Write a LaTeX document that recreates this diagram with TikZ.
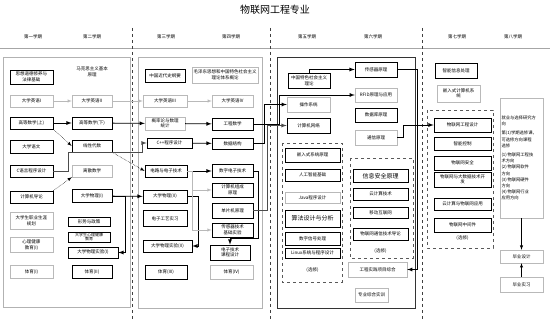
\documentclass[tikz,border=0pt]{standalone}
\usepackage{fontspec}
\newfontfamily\cjk{Noto Sans CJK SC}
\begin{document}
\begin{tikzpicture}[
    x=1pt, y=-1pt,
    every node/.style={font=\cjk\fontsize{4.5}{5.5}\selectfont, inner sep=1pt, align=center},
    box/.style 2 args={minimum width=#1, minimum height=#2},
    hard/.style={draw=black, line width=0.7pt},
    soft/.style={draw=gray!55, line width=0.4pt},
    big/.style={font=\cjk\fontsize{6}{7}\selectfont},
    group/.style={draw=gray!70!black, dashed, line width=0.6pt},
    panel/.style={draw=gray!60, line width=0.5pt},
    blk/.style={draw, line width=0.8pt, -latex},
    gry/.style={draw=gray!55, line width=0.5pt, -latex},
    dot/.style={draw, densely dotted, line width=0.5pt, -latex},
  ]
  \fill[white] (0,0) rectangle (550,320);
  \useasboundingbox (0,0) rectangle (550,320);

  % title and semesters
  \node[font=\cjk\fontsize{10}{12}\selectfont] (title) at (275,10) {物联网工程专业};
  \foreach \x/\t [count=\i] in {33/第一学期, 92/第二学期, 166/第三学期, 231/第四学期,
                                307/第五学期, 373/第六学期, 457/第七学期, 513/第八学期}
    \node (h\i) at (\x,37) {\t};
  \draw[gray!70] (0,48) -- (550,48);
  \foreach \x in {132,270,422}
    \draw[dashed, gray!50!black, line width=0.5pt] (\x,28) -- (\x,320);
  \draw[panel] (3,57) rectangle (130,307);
  \draw[panel] (138,57) rectangle (262,308);
  \draw[panel, draw=gray!40!black] (277,57) rectangle (415,308);

  % semester 1
  \node[hard, box={43}{14}] (sx)  at (31.5,77)  {思想道德修养与\\法律基础};
  \node[soft, box={43}{12}] (ey1) at (31.5,101) {大学英语I};
  \node[hard, box={43}{12}] (gs1) at (31.5,123) {高等数学(上)};
  \node[hard, box={43}{13}] (yw)  at (31.5,147) {大学语文};
  \node[hard, box={43}{12}] (cyy) at (31.5,171) {C语言程序设计};
  \node[hard, box={43}{12}] (jsj) at (31.5,197) {计算机导论};
  \node[soft, box={43}{17}] (zy)  at (31.5,221) {大学生职业生涯\\规划};
  \node[soft, box={43}{15}] (xl1) at (31.5,245) {心理健康\\教育(I)};
  \node[soft, box={43}{13}] (ty1) at (31.5,272) {体育(I)};

  % semester 2
  \node[box={40}{15}]       (mk)   at (92,72)    {马克思主义基本\\原理};
  \node[soft, box={40}{12}] (ey2)  at (92,101)   {大学英语II};
  \node[hard, box={40}{12}] (gs2)  at (92,123)   {高等数学(下)};
  \node[hard, box={40}{12}] (xd)   at (92,146)   {线性代数};
  \node[soft, box={40}{12}] (ls)   at (92,171)   {离散数学};
  \node[hard, box={40}{13}] (wl1)  at (92,196)   {大学物理(I)};
  \node[hard, box={42}{9}]  (xs)   at (89,222)   {形势与政策};
  \node[hard, box={42}{10}, font=\cjk\fontsize{4}{4.5}\selectfont]
                            (xljk) at (89,237)   {大学生心理健康\\教育};
  \node[hard, box={50}{11}] (sy1)  at (93,252.5) {大学物理实验(I)};
  \node[hard, box={40}{13}] (ty2)  at (92,272)   {体育(II)};

  % semester 3
  \node[hard, box={40}{13}] (gy)   at (165,76)    {中国近代史纲要};
  \node[soft, box={44}{12}] (ey3)  at (165,101)   {大学英语III};
  \node[soft, box={40}{13}] (gl)   at (165,123.5) {概率论与数理\\统计};
  \node[hard, box={45}{10}] (cpp)  at (169.5,143) {C++程序设计};
  \node[hard, box={42}{12}] (dl)   at (166,171)   {电路与电子技术};
  \node[hard, box={44}{13}] (wl2)  at (165,196.5) {大学物理(II)};
  \node[hard, box={44}{16}] (dzgy) at (165,218.5) {电子工艺实习};
  \node[hard, box={49}{12}] (sy2)  at (167.5,246) {大学物理实验(II)};
  \node[hard, box={42}{14}] (ty3)  at (166,272.5) {体育(III)};

  % semester 4
  \node[soft, box={66}{16}] (mz)  at (225,75)    {毛泽东思想和中国特色社会主义\\理论体系概论};
  \node[soft, box={41}{12}] (ey4) at (232.5,101) {大学英语IV};
  \node[hard, box={41}{12}] (gc)  at (232.5,124) {工程数学};
  \node[hard, box={41}{11}] (sj)  at (232.5,143.5) {数据结构};
  \node[hard, box={41}{13}] (sz)  at (232.5,171) {数字电子技术};
  \node[hard, box={41}{14}] (zc)  at (232.5,190) {计算机组成\\原理};
  \node[hard, box={41}{15}] (dpj) at (232.5,210.5) {单片机原理};
  \node[hard, box={41}{14}] (cgq) at (232.5,230) {传感器技术\\基础实验};
  \node[hard, box={40}{15}] (kc)  at (230,252.5) {电子技术\\课程设计};
  \node[soft, box={43}{14}] (ty4) at (231.5,272.5) {体育(IV)};

  % semester 5
  \node[hard, box={42}{15}] (ts) at (309,80.5)   {中国特色社会主义\\理论};
  \node[soft, box={43}{15}] (cz) at (308.5,104.5) {操作系统};
  \node[hard, box={43}{15}] (wl) at (308.5,125.5) {计算机网络};
  \draw[group] (282,143) rectangle (342,282);
  \node[hard, box={55}{14}] (qr)   at (312.5,155)   {嵌入式系统原理};
  \node[hard, box={55}{12}] (rg)   at (312.5,175)   {人工智能基础};
  \node[soft, box={55}{11}] (java) at (312.5,197.5) {Java程序设计};
  \node[hard, big, box={55}{17}] (sf) at (312.5,218.5) {算法设计与分析};
  \node[hard, box={55}{13}] (xh)   at (312.5,238.5) {数字信号处理};
  \node[hard, box={55}{10}] (lx)   at (312.5,253)   {Linux系统与程序设计};
  \node (xx5) at (312.5,270) {(选修)};

  % semester 6
  \node[hard, box={42}{15}] (cyl)  at (376,69.5)  {传感器原理};
  \node[soft, box={42}{14}] (rfid) at (376,95)    {RFID原理与应用};
  \node[hard, box={42}{14}] (db)   at (376,115)   {数据库原理};
  \node[soft, box={42}{15}] (tx)   at (376,137.5) {通信原理};
  \draw[group] (350,158) rectangle (413,258);
  \node[hard, big, box={55}{13}] (aq) at (380.5,176) {信息安全原理};
  \node[hard, box={55}{12}] (yun)  at (380.5,194)   {云计算技术};
  \node[hard, box={55}{11}] (yd)   at (380.5,212.5) {移动互联网};
  \node[hard, box={55}{12}] (wltx) at (380.5,234)   {物联网通信技术导论};
  \node (xx6) at (380.5,251) {(选修)};
  \node[soft, box={59}{15}] (sjzh) at (377.5,269.5) {工程实践项目综合};
  \node[soft, box={33}{14}] (zhsx) at (371.5,295)   {专业综合实训};

  % semester 7
  \node[hard, box={42}{15}] (zn)  at (456,70.5)  {智能信息处理};
  \node[soft, box={43}{17}] (qrs) at (458.5,93.5) {嵌入式计算机系\\统};
  \draw[group] (427,110) rectangle (493,248);
  \node[hard, box={57}{14}] (gcsj) at (462.5,125)   {物联网工程设计};
  \node[hard, box={57}{13}] (kz)   at (462.5,143.5) {智能控制};
  \node[hard, box={57}{14}] (aq7)  at (462.5,163)   {物联网安全};
  \node[hard, box={57}{15}] (dsj)  at (462.5,179.5) {物联网与大数据技术开\\发};
  \node[hard, box={57}{12}] (yy)   at (462.5,204)   {云计算与物联网应用};
  \node[hard, box={57}{14}] (zj)   at (462.5,225)   {物联网中间件};
  \node (xx7) at (462.5,238.5) {(选修)};

  % semester 8
  \node[soft, box={43}{120}, align=left, text width=40pt,
        font=\cjk\fontsize{4.3}{6.2}\selectfont] (fx) at (521.5,158)
    {就业与选择研究方\\向\\[3pt]
     第(1)学期选修课，\\可选修方向课程\\选修\\[3pt]
     (1)\,物联网工程技\\术方向\\
     (2)\,物联网软件\\方向\\
     (3)\,物联网硬件\\方向\\
     (4)\,物联网行业\\应用方向};
  \node[soft, box={43}{13}] (bs)  at (521.5,256.5) {毕业设计};
  \node[soft, box={43}{15}] (bsx) at (521.5,284.5) {毕业实习};

  % connectors
  \draw[gry] (ey1) -- (ey2);
  \draw[gry] (ey2) -- (ey3);
  \draw[gry] (ey3) -- (ey4);
  \draw[blk] (gs1) -- (gs2);
  \draw[blk] (gs2) -- (gl);
  \draw[blk] (gl) -- (gc);
  \draw[dot] (gs1.south east) -- (xd.west);
  \draw[dot] (xd.south east) -- (dl.west);
  \draw[dot] (jsj.north east) -- (ls.south west);
  \draw[blk, draw=gray!60!black] (cyy.east) -| (68,152) -| (142,143) -- (cpp.west);
  \draw[blk] (cpp) -- (sj);
  \draw[blk] (dl) -- (sz);
  \draw[blk] (wl1) -- (wl2);
  \draw[blk] (wl1.east) -| (125,252.5) -- (sy1.east);
  \draw[blk] (wl2.east) -| (198,246) -- (sy2.east);
  \draw[gry] (dl.east) -- ++(5,0) |- (zc.west);
  \draw[gry] (192,190) |- (cgq.west);
  \draw[blk] (sz.east) -| (258,238) -| (kc.north);
  \draw[blk] (sj.east) -| (264,104.5) -- (cz.west);
  \draw[blk, draw=gray!60!black] (dpj.east) -| (267,125.5) -- (wl.west);
  \draw[blk] (gc.east) -| (279,95) -- (rfid.west);
  \draw[blk] (ts.north) |- (cyl.west);
  \draw[blk] (cyl.east) -| (417,269.5) -- (sjzh.east);
  \draw[blk] (tx.east) -| (403,125) -- (gcsj.west);
  \draw[blk, line width=0.5pt] (fx) -- (bs);
  \draw[blk, line width=0.5pt] (bsx) -- (bs);
\end{tikzpicture}
\end{document}
